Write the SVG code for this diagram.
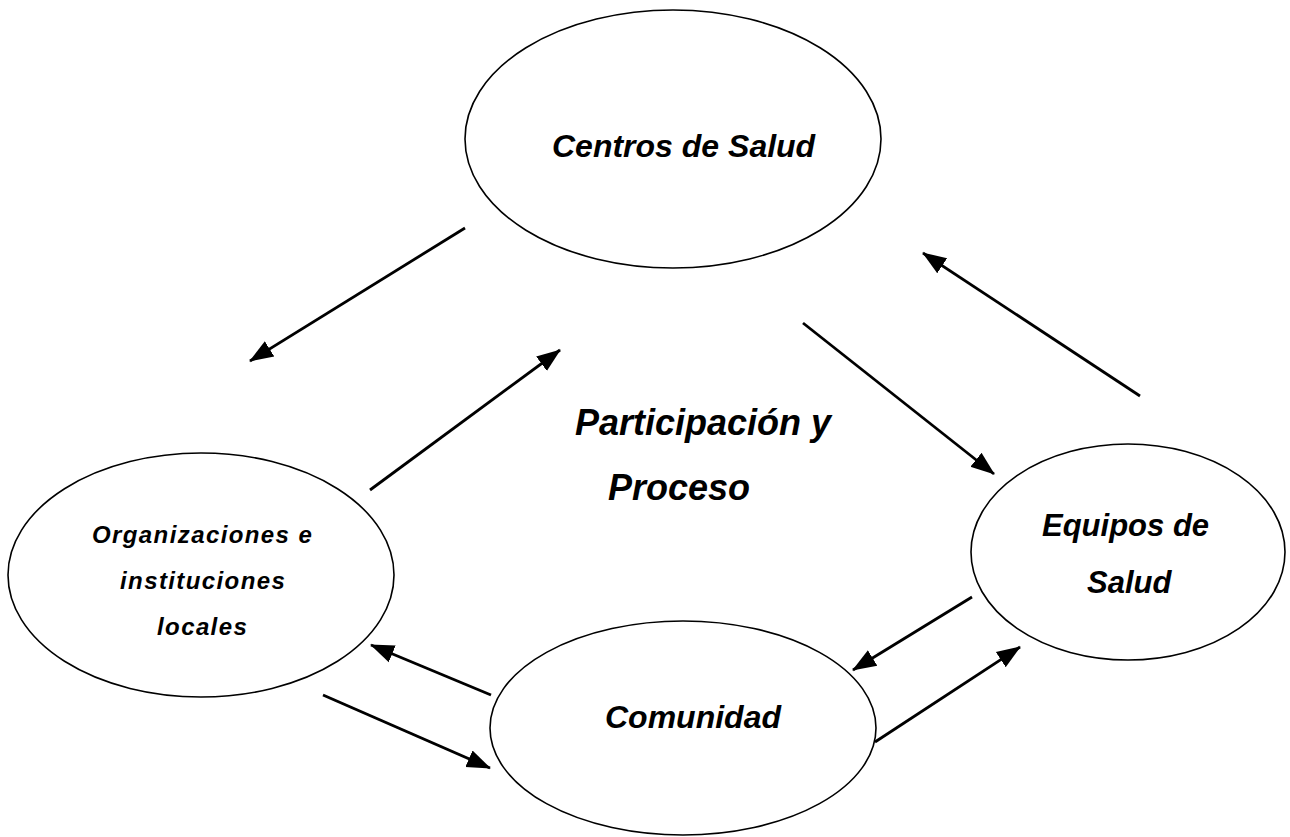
<svg xmlns="http://www.w3.org/2000/svg" width="1290" height="837" viewBox="0 0 1290 837">
<style>
.node ellipse{fill:#fff;stroke:#000;stroke-width:1.6}
text{font-family:"Liberation Sans",Arial,sans-serif;font-style:italic;font-weight:bold;fill:#000}
.conn line{stroke:#000;stroke-width:2.8;marker-end:url(#ah)}
</style>
<defs>
<marker id="ah" markerUnits="userSpaceOnUse" markerWidth="24" markerHeight="20" refX="23" refY="10" orient="auto" viewBox="0 0 24 20">
<path d="M0,1 L24,10 L0,19 z" fill="#000"/>
</marker>
</defs>
<rect width="1290" height="837" fill="#fff"/>
<g id="centros" class="node">
<ellipse cx="673" cy="139" rx="208" ry="129"/>
<text x="552" y="157" font-size="32">Centros de Salud</text>
</g>
<g id="organizaciones" class="node">
<ellipse cx="201" cy="575" rx="193" ry="122"/>
<text font-size="24" letter-spacing="1.4"><tspan x="92" y="543">Organizaciones e</tspan><tspan x="120" y="589">instituciones</tspan><tspan x="157" y="635">locales</tspan></text>
</g>
<g id="equipos" class="node">
<ellipse cx="1128" cy="552" rx="157" ry="108"/>
<text font-size="31"><tspan x="1042" y="536">Equipos de</tspan><tspan x="1087" y="593">Salud</tspan></text>
</g>
<g id="comunidad" class="node">
<ellipse cx="683" cy="728" rx="193" ry="107"/>
<text x="605" y="728" font-size="32">Comunidad</text>
</g>
<g id="centro-label">
<text font-size="36"><tspan x="575" y="435">Participación y</tspan><tspan x="608" y="500">Proceso</tspan></text>
</g>
<g class="conn" id="connectors">
<line x1="465" y1="228" x2="250" y2="361"/>
<line x1="370" y1="490" x2="560" y2="350"/>
<line x1="803" y1="323" x2="994" y2="474"/>
<line x1="1140" y1="396" x2="923" y2="253"/>
<line x1="972" y1="597" x2="853" y2="670"/>
<line x1="875" y1="742" x2="1020" y2="647"/>
<line x1="491" y1="695" x2="371" y2="645"/>
<line x1="323" y1="695" x2="490" y2="768"/>
</g>
</svg>
